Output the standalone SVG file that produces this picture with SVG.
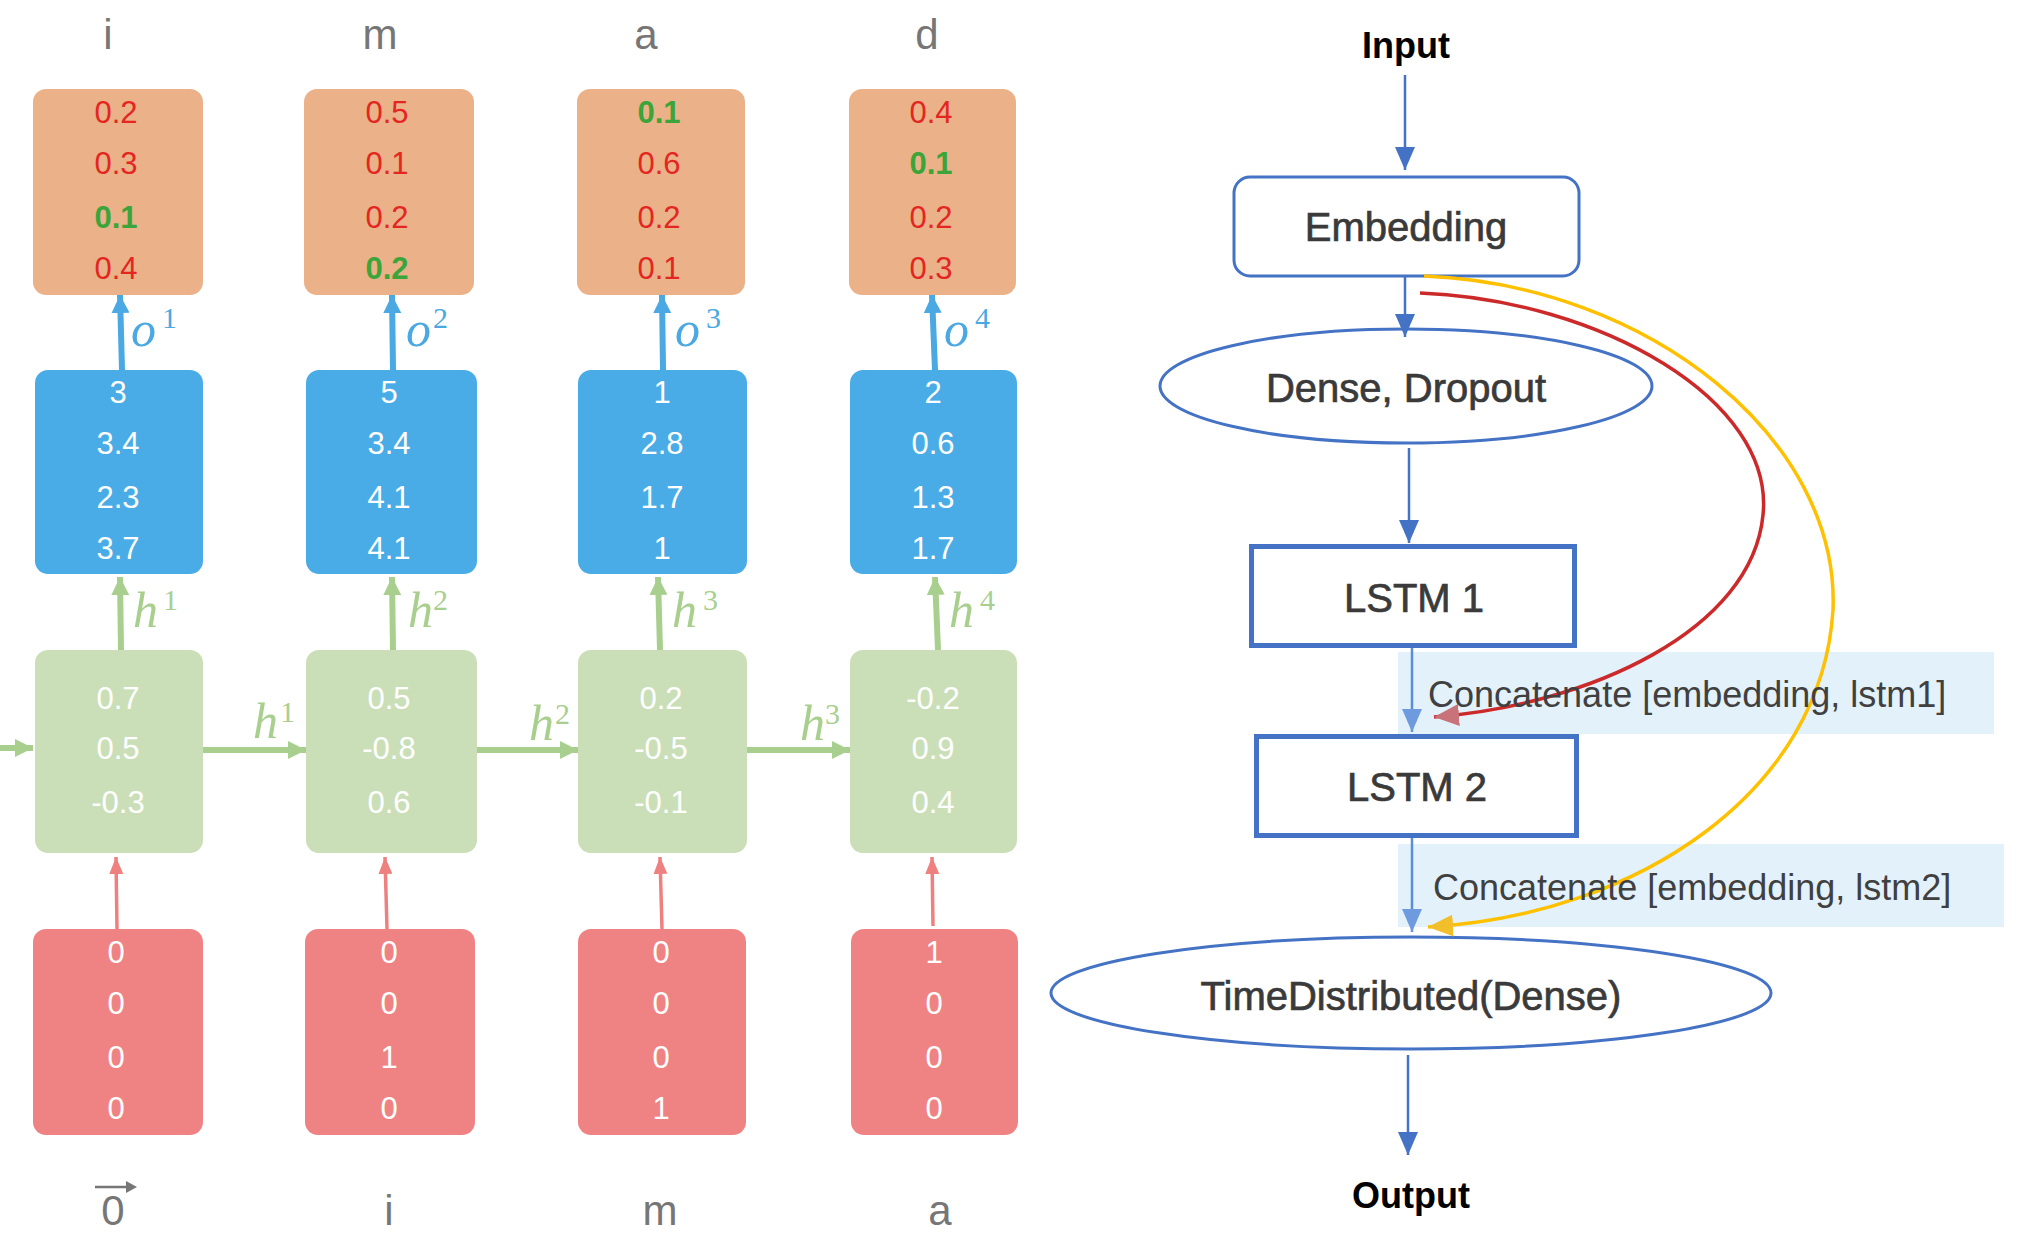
<svg xmlns="http://www.w3.org/2000/svg" width="2034" height="1235" viewBox="0 0 2034 1235">
<defs>
<style>
.num{font-family:"Liberation Sans",Arial,sans-serif;font-size:31px;text-anchor:middle}
.w{fill:#ffffff}
.r{fill:#e3261f}
.g{fill:#3aa53a;font-weight:bold}
.lbl{font-family:"Liberation Sans",Arial,sans-serif;font-size:42px;fill:#767676;text-anchor:middle}
.mi{font-family:"Liberation Serif","Times New Roman",serif;font-style:italic}
.sup{font-family:"Liberation Serif","Times New Roman",serif;font-size:30px}
.ob{fill:#4aa8e2}
.gb{fill:#a9cf8f}
.orange{fill:#ebb189}
.blue{fill:#4aace6}
.green{fill:#cadfb8}
.red{fill:#ef8383}
.node{fill:#ffffff;stroke:#4472c4;stroke-width:3}
.nt{font-family:"Liberation Sans",Arial,sans-serif;font-size:40px;fill:#3a3a3a;stroke:#3a3a3a;stroke-width:0.7;text-anchor:middle}
.io{font-family:"Liberation Sans",Arial,sans-serif;font-size:36px;font-weight:bold;fill:#000000;text-anchor:middle}
.ct{font-family:"Liberation Sans",Arial,sans-serif;font-size:36px;fill:#404040}
.band{fill:#e3f1fb}
.flow{stroke:#4472c4;stroke-width:2.5;fill:none;marker-end:url(#ah)}
.flowl{stroke:#5b8ed6;stroke-width:2.5;fill:none;marker-end:url(#ahl)}
</style>
<marker id="ah" markerUnits="userSpaceOnUse" markerWidth="24" markerHeight="20" refX="23" refY="10" orient="auto"><path d="M0,0 L23,10 L0,20 z" fill="#4472c4"/></marker>
<marker id="ahl" markerUnits="userSpaceOnUse" markerWidth="24" markerHeight="20" refX="23" refY="10" orient="auto"><path d="M0,0 L23,10 L0,20 z" fill="#6e9be0"/></marker>
<marker id="ahb" markerUnits="userSpaceOnUse" markerWidth="19" markerHeight="18" refX="18" refY="9" orient="auto"><path d="M0,0 L18,9 L0,18 z" fill="#4aa8e2"/></marker>
<marker id="ahg" markerUnits="userSpaceOnUse" markerWidth="19" markerHeight="18" refX="18" refY="9" orient="auto"><path d="M0,0 L18,9 L0,18 z" fill="#a9cf8f"/></marker>
<marker id="ahr" markerUnits="userSpaceOnUse" markerWidth="18" markerHeight="14" refX="17" refY="7" orient="auto"><path d="M0,0 L17,7 L0,14 z" fill="#ee8080"/></marker>
<marker id="ahred" markerUnits="userSpaceOnUse" markerWidth="26" markerHeight="22" refX="25" refY="11" orient="auto"><path d="M0,0 L25,11 L0,22 z" fill="#c8727a"/></marker>
<marker id="ahy" markerUnits="userSpaceOnUse" markerWidth="26" markerHeight="22" refX="25" refY="11" orient="auto"><path d="M0,0 L25,11 L0,22 z" fill="#f2bf2a"/></marker>
</defs>
<rect width="2034" height="1235" fill="#ffffff"/>

<!-- top labels -->
<g id="top-labels">
<text class="lbl" x="108" y="49">i</text>
<text class="lbl" x="380" y="49">m</text>
<text class="lbl" x="646" y="49">a</text>
<text class="lbl" x="927" y="49">d</text>
</g>

<!-- orange output boxes -->
<g id="out1"><rect class="orange" x="33" y="89" width="170" height="206" rx="13"/>
<text class="num r" x="116" y="123">0.2</text><text class="num r" x="116" y="174">0.3</text><text class="num g" x="116" y="228">0.1</text><text class="num r" x="116" y="279">0.4</text></g>
<g id="out2"><rect class="orange" x="304" y="89" width="170" height="206" rx="13"/>
<text class="num r" x="387" y="123">0.5</text><text class="num r" x="387" y="174">0.1</text><text class="num r" x="387" y="228">0.2</text><text class="num g" x="387" y="279">0.2</text></g>
<g id="out3"><rect class="orange" x="577" y="89" width="168" height="206" rx="13"/>
<text class="num g" x="659" y="123">0.1</text><text class="num r" x="659" y="174">0.6</text><text class="num r" x="659" y="228">0.2</text><text class="num r" x="659" y="279">0.1</text></g>
<g id="out4"><rect class="orange" x="849" y="89" width="167" height="206" rx="13"/>
<text class="num r" x="931" y="123">0.4</text><text class="num g" x="931" y="174">0.1</text><text class="num r" x="931" y="228">0.2</text><text class="num r" x="931" y="279">0.3</text></g>

<!-- blue boxes -->
<g id="dense1"><rect class="blue" x="35" y="370" width="168" height="204" rx="13"/>
<text class="num w" x="118" y="403">3</text><text class="num w" x="118" y="454">3.4</text><text class="num w" x="118" y="508">2.3</text><text class="num w" x="118" y="559">3.7</text></g>
<g id="dense2"><rect class="blue" x="306" y="370" width="171" height="204" rx="13"/>
<text class="num w" x="389" y="403">5</text><text class="num w" x="389" y="454">3.4</text><text class="num w" x="389" y="508">4.1</text><text class="num w" x="389" y="559">4.1</text></g>
<g id="dense3"><rect class="blue" x="578" y="370" width="169" height="204" rx="13"/>
<text class="num w" x="662" y="403">1</text><text class="num w" x="662" y="454">2.8</text><text class="num w" x="662" y="508">1.7</text><text class="num w" x="662" y="559">1</text></g>
<g id="dense4"><rect class="blue" x="850" y="370" width="167" height="204" rx="13"/>
<text class="num w" x="933" y="403">2</text><text class="num w" x="933" y="454">0.6</text><text class="num w" x="933" y="508">1.3</text><text class="num w" x="933" y="559">1.7</text></g>

<!-- green boxes -->
<g id="rnn1"><rect class="green" x="35" y="650" width="168" height="203" rx="13"/>
<text class="num w" x="118" y="709">0.7</text><text class="num w" x="118" y="759">0.5</text><text class="num w" x="118" y="813">-0.3</text></g>
<g id="rnn2"><rect class="green" x="306" y="650" width="171" height="203" rx="13"/>
<text class="num w" x="389" y="709">0.5</text><text class="num w" x="389" y="759">-0.8</text><text class="num w" x="389" y="813">0.6</text></g>
<g id="rnn3"><rect class="green" x="578" y="650" width="169" height="203" rx="13"/>
<text class="num w" x="661" y="709">0.2</text><text class="num w" x="661" y="759">-0.5</text><text class="num w" x="661" y="813">-0.1</text></g>
<g id="rnn4"><rect class="green" x="850" y="650" width="167" height="203" rx="13"/>
<text class="num w" x="933" y="709">-0.2</text><text class="num w" x="933" y="759">0.9</text><text class="num w" x="933" y="813">0.4</text></g>

<!-- red input boxes -->
<g id="in1"><rect class="red" x="33" y="929" width="170" height="206" rx="13"/>
<text class="num w" x="116" y="963">0</text><text class="num w" x="116" y="1014">0</text><text class="num w" x="116" y="1068">0</text><text class="num w" x="116" y="1119">0</text></g>
<g id="in2"><rect class="red" x="305" y="929" width="170" height="206" rx="13"/>
<text class="num w" x="389" y="963">0</text><text class="num w" x="389" y="1014">0</text><text class="num w" x="389" y="1068">1</text><text class="num w" x="389" y="1119">0</text></g>
<g id="in3"><rect class="red" x="578" y="929" width="168" height="206" rx="13"/>
<text class="num w" x="661" y="963">0</text><text class="num w" x="661" y="1014">0</text><text class="num w" x="661" y="1068">0</text><text class="num w" x="661" y="1119">1</text></g>
<g id="in4"><rect class="red" x="851" y="929" width="167" height="206" rx="13"/>
<text class="num w" x="934" y="963">1</text><text class="num w" x="934" y="1014">0</text><text class="num w" x="934" y="1068">0</text><text class="num w" x="934" y="1119">0</text></g>

<!-- bottom labels -->
<g id="bottom-labels">
<text class="lbl" x="113" y="1225">0</text>
<line x1="95" y1="1187" x2="128" y2="1187" stroke="#767676" stroke-width="2.5"/>
<path d="M126,1181 L137,1187 L126,1193 z" fill="#767676"/>
<text class="lbl" x="389" y="1225">i</text>
<text class="lbl" x="660" y="1225">m</text>
<text class="lbl" x="940" y="1225">a</text>
</g>

<!-- left connectors -->
<g id="rnn-connectors" fill="none">
<g stroke="#4aa8e2" stroke-width="6" marker-end="url(#ahb)">
<line x1="122" y1="370" x2="120" y2="295"/>
<line x1="393" y1="370" x2="392" y2="295"/>
<line x1="663" y1="370" x2="662" y2="295"/>
<line x1="935" y1="370" x2="932" y2="295"/>
</g>
<g stroke="#a9cf8f" stroke-width="6" marker-end="url(#ahg)">
<line x1="121" y1="650" x2="120" y2="577"/>
<line x1="393" y1="650" x2="392" y2="577"/>
<line x1="660" y1="650" x2="658" y2="577"/>
<line x1="938" y1="650" x2="935" y2="577"/>
<line x1="0" y1="748" x2="33" y2="748"/>
<line x1="203" y1="750" x2="306" y2="750"/>
<line x1="477" y1="750" x2="578" y2="750"/>
<line x1="747" y1="750" x2="850" y2="750"/>
</g>
<g stroke="#ee8080" stroke-width="3.5" marker-end="url(#ahr)">
<line x1="117" y1="929" x2="116" y2="857"/>
<line x1="387" y1="929" x2="385" y2="857"/>
<line x1="662" y1="929" x2="660" y2="857"/>
<line x1="933" y1="926" x2="932" y2="857"/>
</g>
</g>

<!-- math labels -->
<g id="math-labels">
<g class="ob">
<text class="mi" font-size="50" x="131" y="346">o</text><text class="sup" x="162" y="328">1</text>
<text class="mi" font-size="50" x="406" y="346">o</text><text class="sup" x="433" y="328">2</text>
<text class="mi" font-size="50" x="675" y="346">o</text><text class="sup" x="706" y="328">3</text>
<text class="mi" font-size="50" x="944" y="346">o</text><text class="sup" x="975" y="328">4</text>
</g>
<g class="gb">
<text class="mi" font-size="50" x="133" y="627">h</text><text class="sup" x="163" y="610">1</text>
<text class="mi" font-size="50" x="408" y="627">h</text><text class="sup" x="433" y="610">2</text>
<text class="mi" font-size="50" x="672" y="627">h</text><text class="sup" x="703" y="610">3</text>
<text class="mi" font-size="50" x="949" y="627">h</text><text class="sup" x="980" y="610">4</text>
<text class="mi" font-size="50" x="253" y="738">h</text><text class="sup" x="280" y="722">1</text>
<text class="mi" font-size="50" x="529" y="740">h</text><text class="sup" x="555" y="724">2</text>
<text class="mi" font-size="50" x="800" y="740">h</text><text class="sup" x="825" y="724">3</text>
</g>
</g>

<!-- right: model graph -->
<g id="band1"><rect class="band" x="1398" y="652" width="596" height="82"/></g>
<g id="band2"><rect class="band" x="1398" y="844" width="606" height="83"/></g>

<g id="input"><text class="io" x="1406" y="58">Input</text></g>
<g id="embedding"><rect class="node" x="1234" y="177" width="345" height="99" rx="16"/><text class="nt" x="1406" y="241">Embedding</text></g>
<g id="dense-dropout"><ellipse class="node" cx="1406" cy="386" rx="246" ry="57"/><text class="nt" x="1406" y="402">Dense, Dropout</text></g>
<g id="lstm1"><rect class="node" style="stroke-width:5" x="1251.5" y="546.5" width="323" height="99"/><text class="nt" x="1414" y="612">LSTM 1</text></g>
<g id="lstm2"><rect class="node" style="stroke-width:5" x="1256.5" y="736.5" width="320" height="99"/><text class="nt" x="1417" y="801">LSTM 2</text></g>
<g id="timedistributed"><ellipse class="node" cx="1411" cy="993" rx="360" ry="56"/><text class="nt" x="1411" y="1010">TimeDistributed(Dense)</text></g>
<g id="output"><text class="io" x="1411" y="1208">Output</text></g>

<g id="connectors">
<line class="flow" x1="1405" y1="75" x2="1405" y2="170"/>
<line class="flow" x1="1405" y1="277" x2="1405" y2="337"/>
<line class="flow" x1="1409" y1="448" x2="1409" y2="543"/>
<line class="flowl" x1="1412" y1="648" x2="1412" y2="732"/>
<line class="flowl" x1="1412" y1="838" x2="1412" y2="932"/>
<line class="flow" x1="1408" y1="1055" x2="1408" y2="1155"/>
<path d="M1420,293 C1600,300 1775,400 1763,515 C1752,630 1590,705 1434,717" fill="none" stroke="#cc2a2a" stroke-width="3.5" marker-end="url(#ahred)"/>
<path d="M1424,276 C1650,285 1840,440 1833,610 C1822,790 1640,915 1428,927" fill="none" stroke="#ffc000" stroke-width="3.5" marker-end="url(#ahy)"/>
</g>

<g id="concat-labels">
<text class="ct" x="1428" y="707">Concatenate [embedding, lstm1]</text>
<text class="ct" x="1433" y="900">Concatenate [embedding, lstm2]</text>
</g>
</svg>
